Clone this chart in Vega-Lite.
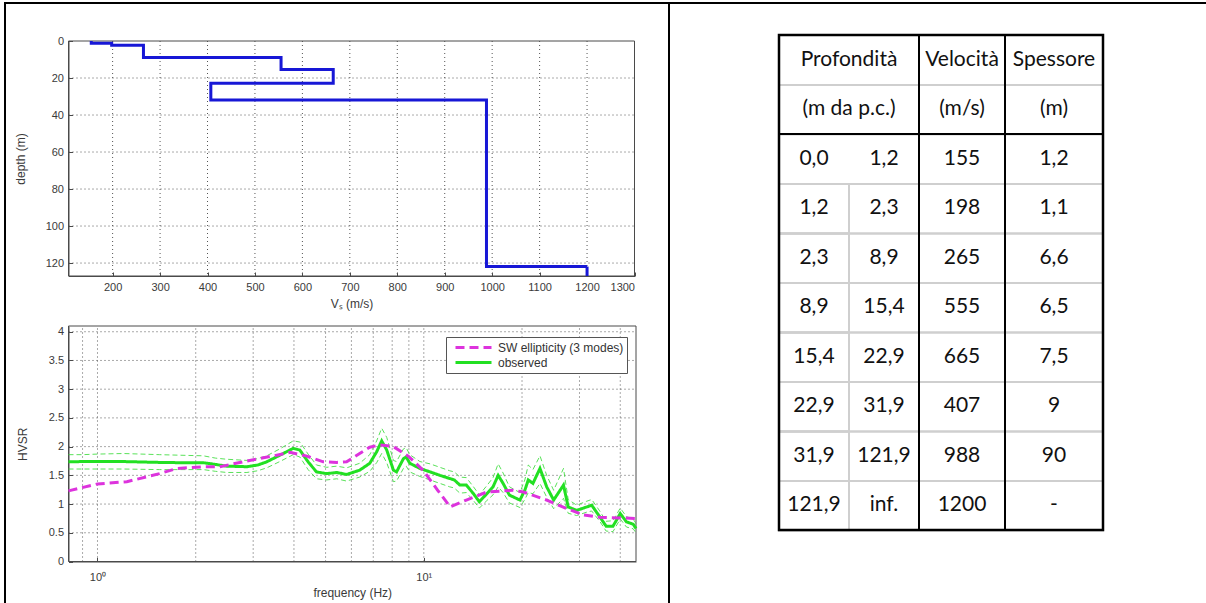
{
  "$schema": "https://vega.github.io/schema/vega-lite/v6.json",
  "width": 1206,
  "height": 603,
  "autosize": "none",
  "padding": 0,
  "background": "white",
  "config": {
    "view": {"stroke": null},
    "locale": {"number": {"decimal": ",", "thousands": ".", "grouping": [3], "currency": ["", " €"]}},
    "axis": {
      "grid": false,
      "labelFont": "Liberation Sans",
      "labelFontSize": 11,
      "labelColor": "#3a3a3a",
      "titleFont": "Liberation Sans",
      "titleFontSize": 12,
      "titleFontWeight": "normal",
      "titleColor": "#3a3a3a",
      "domainColor": "#4a4a4a",
      "tickColor": "#4a4a4a",
      "tickSize": -4,
      "labelPadding": 9
    }
  },
  "datasets": {
    "layers": [
      {"n": 1, "top": 0, "bottom": 1.2, "vs": 155, "h": 1.2},
      {"n": 2, "top": 1.2, "bottom": 2.3, "vs": 198, "h": 1.1},
      {"n": 3, "top": 2.3, "bottom": 8.9, "vs": 265, "h": 6.6},
      {"n": 4, "top": 8.9, "bottom": 15.4, "vs": 555, "h": 6.5},
      {"n": 5, "top": 15.4, "bottom": 22.9, "vs": 665, "h": 7.5},
      {"n": 6, "top": 22.9, "bottom": 31.9, "vs": 407, "h": 9},
      {"n": 7, "top": 31.9, "bottom": 121.9, "vs": 988, "h": 90},
      {"n": 8, "top": 121.9, "bottom": null, "vs": 1200, "h": null}
    ],
    "header": [
      {"n": -1, "depth": "Profondità", "vel": "Velocità", "thick": "Spessore"},
      {"n": 0, "depth": "(m da p.c.)", "vel": "(m/s)", "thick": "(m)"}
    ],
    "vsGrid": [{"v": 200}, {"v": 300}, {"v": 400}, {"v": 500}, {"v": 600}, {"v": 700}, {"v": 800}, {"v": 900}, {"v": 1000}, {"v": 1100}, {"v": 1200}],
    "depthGrid": [{"d": 20}, {"d": 40}, {"d": 60}, {"d": 80}, {"d": 100}, {"d": 120}],
    "fGrid": [{"f": 0.9}, {"f": 1}, {"f": 2}, {"f": 3}, {"f": 4}, {"f": 5}, {"f": 6}, {"f": 7}, {"f": 8}, {"f": 9}, {"f": 10}, {"f": 20}, {"f": 30}, {"f": 40}],
    "hGrid": [{"h": 0.5}, {"h": 1}, {"h": 1.5}, {"h": 2}, {"h": 2.5}, {"h": 3}, {"h": 3.5}, {"h": 4}],
    "hvsr": [
      {"f": 0.815, "obs": 1.735, "lo": 1.61, "hi": 1.86},
      {"f": 0.9, "obs": 1.74, "lo": 1.61, "hi": 1.86},
      {"f": 1.0, "obs": 1.74, "lo": 1.61, "hi": 1.87},
      {"f": 1.2, "obs": 1.74, "lo": 1.61, "hi": 1.88},
      {"f": 1.55, "obs": 1.725, "lo": 1.6, "hi": 1.86},
      {"f": 1.8, "obs": 1.72, "lo": 1.6, "hi": 1.85},
      {"f": 2.11, "obs": 1.72, "lo": 1.6, "hi": 1.84},
      {"f": 2.3, "obs": 1.69, "lo": 1.57, "hi": 1.8},
      {"f": 2.49, "obs": 1.66, "lo": 1.55, "hi": 1.78},
      {"f": 2.87, "obs": 1.65, "lo": 1.55, "hi": 1.76},
      {"f": 3.1, "obs": 1.68, "lo": 1.58, "hi": 1.79},
      {"f": 3.3, "obs": 1.735, "lo": 1.63, "hi": 1.84},
      {"f": 3.62, "obs": 1.85, "lo": 1.74, "hi": 1.96},
      {"f": 3.98, "obs": 1.97, "lo": 1.86, "hi": 2.1},
      {"f": 4.17, "obs": 1.94, "lo": 1.82, "hi": 2.08},
      {"f": 4.42, "obs": 1.735, "lo": 1.6, "hi": 1.87},
      {"f": 4.69, "obs": 1.56, "lo": 1.44, "hi": 1.68},
      {"f": 5.04, "obs": 1.53, "lo": 1.42, "hi": 1.64},
      {"f": 5.41, "obs": 1.55, "lo": 1.44, "hi": 1.66},
      {"f": 5.8, "obs": 1.515, "lo": 1.4, "hi": 1.63},
      {"f": 6.36, "obs": 1.59, "lo": 1.47, "hi": 1.71},
      {"f": 6.83, "obs": 1.71, "lo": 1.57, "hi": 1.86},
      {"f": 7.17, "obs": 1.91, "lo": 1.72, "hi": 2.1},
      {"f": 7.43, "obs": 2.1, "lo": 1.88, "hi": 2.32},
      {"f": 7.7, "obs": 1.94, "lo": 1.72, "hi": 2.16},
      {"f": 8.07, "obs": 1.59, "lo": 1.39, "hi": 1.76},
      {"f": 8.25, "obs": 1.56, "lo": 1.4, "hi": 1.74},
      {"f": 8.66, "obs": 1.79, "lo": 1.62, "hi": 1.96},
      {"f": 8.83, "obs": 1.82, "lo": 1.66, "hi": 1.98},
      {"f": 9.06, "obs": 1.71, "lo": 1.56, "hi": 1.86},
      {"f": 9.73, "obs": 1.62, "lo": 1.48, "hi": 1.74},
      {"f": 10.45, "obs": 1.56, "lo": 1.42, "hi": 1.7},
      {"f": 11.2, "obs": 1.5, "lo": 1.36, "hi": 1.64},
      {"f": 12.0, "obs": 1.445, "lo": 1.3, "hi": 1.58},
      {"f": 12.4, "obs": 1.42, "lo": 1.28, "hi": 1.56},
      {"f": 12.9, "obs": 1.33, "lo": 1.19, "hi": 1.47},
      {"f": 13.5, "obs": 1.33, "lo": 1.2, "hi": 1.46},
      {"f": 14.2, "obs": 1.18, "lo": 1.06, "hi": 1.3},
      {"f": 14.8, "obs": 1.04, "lo": 0.93, "hi": 1.16},
      {"f": 15.6, "obs": 1.18, "lo": 1.06, "hi": 1.32},
      {"f": 16.3, "obs": 1.3, "lo": 1.16, "hi": 1.46},
      {"f": 16.9, "obs": 1.5, "lo": 1.3, "hi": 1.7},
      {"f": 17.5, "obs": 1.36, "lo": 1.2, "hi": 1.54},
      {"f": 18.3, "obs": 1.155, "lo": 1.02, "hi": 1.3},
      {"f": 19.7, "obs": 1.07, "lo": 0.94, "hi": 1.2},
      {"f": 20.4, "obs": 1.24, "lo": 1.08, "hi": 1.42},
      {"f": 20.9, "obs": 1.42, "lo": 1.2, "hi": 1.68},
      {"f": 21.6, "obs": 1.36, "lo": 1.18, "hi": 1.6},
      {"f": 22.7, "obs": 1.62, "lo": 1.36, "hi": 1.84},
      {"f": 23.8, "obs": 1.3, "lo": 1.12, "hi": 1.5},
      {"f": 25.0, "obs": 1.07, "lo": 0.92, "hi": 1.24},
      {"f": 26.8, "obs": 1.33, "lo": 1.1, "hi": 1.62},
      {"f": 27.7, "obs": 0.95, "lo": 0.84, "hi": 1.08},
      {"f": 29.4, "obs": 0.89, "lo": 0.8, "hi": 0.98},
      {"f": 31.6, "obs": 0.95, "lo": 0.86, "hi": 1.05},
      {"f": 32.7, "obs": 0.98, "lo": 0.88, "hi": 1.08},
      {"f": 34.6, "obs": 0.78, "lo": 0.7, "hi": 0.88},
      {"f": 36.2, "obs": 0.615, "lo": 0.53, "hi": 0.7},
      {"f": 38.0, "obs": 0.615, "lo": 0.52, "hi": 0.71},
      {"f": 40.0, "obs": 0.835, "lo": 0.74, "hi": 0.93},
      {"f": 41.8, "obs": 0.69, "lo": 0.6, "hi": 0.78},
      {"f": 43.8, "obs": 0.65, "lo": 0.57, "hi": 0.74},
      {"f": 44.7, "obs": 0.575, "lo": 0.5, "hi": 0.66}
    ],
    "ellipticity": [
      {"f": 0.815, "h": 1.23},
      {"f": 1.0, "h": 1.35},
      {"f": 1.23, "h": 1.39},
      {"f": 1.55, "h": 1.53},
      {"f": 1.75, "h": 1.62},
      {"f": 2.11, "h": 1.65},
      {"f": 2.37, "h": 1.65},
      {"f": 2.87, "h": 1.75},
      {"f": 3.54, "h": 1.85},
      {"f": 3.89, "h": 1.9},
      {"f": 4.38, "h": 1.835},
      {"f": 4.92, "h": 1.735},
      {"f": 5.41, "h": 1.725},
      {"f": 5.8, "h": 1.735},
      {"f": 6.36, "h": 1.88},
      {"f": 6.83, "h": 1.99},
      {"f": 7.33, "h": 2.03},
      {"f": 8.07, "h": 2.0},
      {"f": 8.96, "h": 1.835},
      {"f": 9.95, "h": 1.59},
      {"f": 11.03, "h": 1.24},
      {"f": 12.05, "h": 0.95},
      {"f": 13.5, "h": 1.07},
      {"f": 15.6, "h": 1.21},
      {"f": 18.8, "h": 1.24},
      {"f": 20.2, "h": 1.21},
      {"f": 23.8, "h": 1.07},
      {"f": 27.4, "h": 0.92},
      {"f": 30.9, "h": 0.81},
      {"f": 34.6, "h": 0.77},
      {"f": 44.7, "h": 0.75}
    ]
  },
  "layer": [
    {
      "data": {"values": [{}]},
      "layer": [
        {
          "mark": {"type": "rect", "filled": false, "stroke": "black", "strokeWidth": 2},
          "encoding": {
            "x": {"datum": 0, "type": "quantitative", "scale": {"domain": [0, 1, 2], "range": [5, 669, 1240], "nice": false, "zero": false}, "axis": null},
            "x2": {"datum": 1},
            "y": {"datum": 0, "type": "quantitative", "scale": {"domain": [0, 1], "range": [3, 660], "nice": false, "zero": false}, "axis": null},
            "y2": {"datum": 1}
          }
        },
        {
          "mark": {"type": "rect", "filled": false, "stroke": "black", "strokeWidth": 2},
          "encoding": {
            "x": {"datum": 1, "type": "quantitative", "scale": {"domain": [0, 1, 2], "range": [5, 669, 1240], "nice": false, "zero": false}, "axis": null},
            "x2": {"datum": 2},
            "y": {"datum": 0, "type": "quantitative", "scale": {"domain": [0, 1], "range": [3, 660], "nice": false, "zero": false}, "axis": null},
            "y2": {"datum": 1}
          }
        }
      ]
    },
    {
      "layer": [
        {
          "data": {"name": "vsGrid"},
          "mark": {"type": "rule", "stroke": "#555", "strokeDash": [1, 3], "strokeWidth": 1},
          "encoding": {
            "x": {"field": "v", "type": "quantitative", "scale": {"domain": [107, 1300], "range": [68.5, 634.5], "nice": false, "zero": false}},
            "y": {"datum": 0, "type": "quantitative", "scale": {"domain": [0, 127], "range": [41, 276], "nice": false, "zero": false}},
            "y2": {"datum": 127}
          }
        },
        {
          "data": {"name": "depthGrid"},
          "mark": {"type": "rule", "stroke": "#555", "strokeDash": [1, 3], "strokeWidth": 1},
          "encoding": {
            "y": {"field": "d", "type": "quantitative", "scale": {"domain": [0, 127], "range": [41, 276], "nice": false, "zero": false}},
            "x": {"datum": 107, "type": "quantitative", "scale": {"domain": [107, 1300], "range": [68.5, 634.5], "nice": false, "zero": false}},
            "x2": {"datum": 1300}
          }
        },
        {
          "data": {"values": [{}]},
          "mark": {"type": "rect", "filled": false, "stroke": "#4a4a4a", "strokeWidth": 1},
          "encoding": {
            "x": {"datum": 107, "type": "quantitative", "scale": {"domain": [107, 1300], "range": [68.5, 634.5], "nice": false, "zero": false}},
            "x2": {"datum": 1300},
            "y": {"datum": 0, "type": "quantitative", "scale": {"domain": [0, 127], "range": [41, 276], "nice": false, "zero": false}},
            "y2": {"datum": 127}
          }
        },
        {
          "data": {"name": "layers"},
          "mark": {"type": "line", "interpolate": "step-before", "stroke": "#1717d6", "strokeWidth": 3},
          "encoding": {
            "x": {
              "field": "vs", "type": "quantitative",
              "scale": {"domain": [107, 1300], "range": [68.5, 634.5], "nice": false, "zero": false},
              "axis": {"orient": "bottom", "offset": -327, "values": [200, 300, 400, 500, 600, 700, 800, 900, 1000, 1100, 1200, 1300], "format": "d", "title": "Vₛ (m/s)", "titleY": 27, "titleBaseline": "middle"}
            },
            "y": {
              "field": "top", "type": "quantitative",
              "scale": {"domain": [0, 127], "range": [41, 276], "nice": false, "zero": false},
              "axis": {"orient": "left", "offset": -68.5, "values": [0, 20, 40, 60, 80, 100, 120], "format": "d", "title": "depth (m)", "titleX": -48, "titleBaseline": "middle"}
            },
            "order": {"field": "top"}
          }
        },
        {
          "data": {"name": "layers"},
          "transform": [{"filter": "datum.bottom === null"}],
          "mark": {"type": "rule", "stroke": "#1717d6", "strokeWidth": 3},
          "encoding": {
            "x": {"field": "vs", "type": "quantitative", "scale": {"domain": [107, 1300], "range": [68.5, 634.5], "nice": false, "zero": false}},
            "y": {"field": "top", "type": "quantitative", "scale": {"domain": [0, 127], "range": [41, 276], "nice": false, "zero": false}},
            "y2": {"datum": 127}
          }
        }
      ]
    },
    {
      "layer": [
        {
          "data": {"name": "fGrid"},
          "mark": {"type": "rule", "stroke": "#555", "strokeDash": [1, 3], "strokeWidth": 1},
          "encoding": {
            "x": {"field": "f", "type": "quantitative", "scale": {"type": "log", "domain": [0.815, 44.7], "range": [68.5, 636], "nice": false}},
            "y": {"datum": 0, "type": "quantitative", "scale": {"domain": [0, 4.1], "range": [561.5, 326], "nice": false, "zero": false}},
            "y2": {"datum": 4.1}
          }
        },
        {
          "data": {"name": "hGrid"},
          "mark": {"type": "rule", "stroke": "#555", "strokeDash": [1, 3], "strokeWidth": 1},
          "encoding": {
            "y": {"field": "h", "type": "quantitative", "scale": {"domain": [0, 4.1], "range": [561.5, 326], "nice": false, "zero": false}},
            "x": {"datum": 0.815, "type": "quantitative", "scale": {"type": "log", "domain": [0.815, 44.7], "range": [68.5, 636], "nice": false}},
            "x2": {"datum": 44.7}
          }
        },
        {
          "data": {"values": [{}]},
          "mark": {"type": "rect", "filled": false, "stroke": "#4a4a4a", "strokeWidth": 1},
          "encoding": {
            "x": {"datum": 0.815, "type": "quantitative", "scale": {"type": "log", "domain": [0.815, 44.7], "range": [68.5, 636], "nice": false}},
            "x2": {"datum": 44.7},
            "y": {"datum": 0, "type": "quantitative", "scale": {"domain": [0, 4.1], "range": [561.5, 326], "nice": false, "zero": false}},
            "y2": {"datum": 4.1}
          }
        },
        {
          "data": {"name": "hvsr"},
          "mark": {"type": "line", "stroke": "#3ddc3d", "strokeWidth": 1, "strokeDash": [5, 3], "opacity": 0.85},
          "encoding": {
            "x": {"field": "f", "type": "quantitative", "scale": {"type": "log", "domain": [0.815, 44.7], "range": [68.5, 636], "nice": false}},
            "y": {"field": "lo", "type": "quantitative", "scale": {"domain": [0, 4.1], "range": [561.5, 326], "nice": false, "zero": false}}
          }
        },
        {
          "data": {"name": "hvsr"},
          "mark": {"type": "line", "stroke": "#3ddc3d", "strokeWidth": 1, "strokeDash": [5, 3], "opacity": 0.85},
          "encoding": {
            "x": {"field": "f", "type": "quantitative", "scale": {"type": "log", "domain": [0.815, 44.7], "range": [68.5, 636], "nice": false}},
            "y": {"field": "hi", "type": "quantitative", "scale": {"domain": [0, 4.1], "range": [561.5, 326], "nice": false, "zero": false}}
          }
        },
        {
          "data": {"name": "hvsr"},
          "mark": {"type": "line", "strokeWidth": 3},
          "encoding": {
            "x": {
              "field": "f", "type": "quantitative",
              "scale": {"type": "log", "domain": [0.815, 44.7], "range": [68.5, 636], "nice": false},
              "axis": {"orient": "bottom", "offset": -41.5, "values": [1, 10], "labelExpr": "datum.value == 1 ? '10⁰' : '10¹'", "labelPadding": 14, "title": "frequency (Hz)", "titleY": 31, "titleBaseline": "middle"}
            },
            "y": {
              "field": "obs", "type": "quantitative",
              "scale": {"domain": [0, 4.1], "range": [561.5, 326], "nice": false, "zero": false},
              "axis": {"orient": "left", "offset": -68.5, "values": [0, 0.5, 1, 1.5, 2, 2.5, 3, 3.5, 4], "labelExpr": "'' + datum.value", "title": "HVSR", "titleX": -46, "titleBaseline": "middle"}
            },
            "color": {
              "datum": "observed",
              "scale": {"domain": ["SW ellipticity (3 modes)", "observed"], "range": ["#dd33dd", "#22e022"]},
              "legend": {"orient": "none", "legendX": 446, "legendY": 337, "title": null, "fillColor": "white", "strokeColor": "#555", "padding": 3, "clipHeight": 15, "symbolOffset": 5, "symbolType": "stroke", "symbolSize": 1296, "symbolStrokeWidth": 3, "labelFont": "Liberation Sans", "labelFontSize": 12, "labelColor": "#333", "rowPadding": 0, "labelOffset": 5}
            },
            "strokeDash": {
              "datum": "observed",
              "scale": {"domain": ["SW ellipticity (3 modes)", "observed"], "range": [[9, 5], [1, 0]]},
              "legend": {"orient": "none", "legendX": 446, "legendY": 337, "title": null, "fillColor": "white", "strokeColor": "#555", "padding": 3, "clipHeight": 15, "symbolOffset": 5, "symbolType": "stroke", "symbolSize": 1296, "symbolStrokeWidth": 3, "labelFont": "Liberation Sans", "labelFontSize": 12, "labelColor": "#333", "rowPadding": 0, "labelOffset": 5}
            }
          }
        },
        {
          "data": {"name": "ellipticity"},
          "mark": {"type": "line", "strokeWidth": 3},
          "encoding": {
            "x": {"field": "f", "type": "quantitative", "scale": {"type": "log", "domain": [0.815, 44.7], "range": [68.5, 636], "nice": false}},
            "y": {"field": "h", "type": "quantitative", "scale": {"domain": [0, 4.1], "range": [561.5, 326], "nice": false, "zero": false}},
            "color": {"datum": "SW ellipticity (3 modes)"},
            "strokeDash": {"datum": "SW ellipticity (3 modes)"}
          }
        }
      ]
    },
    {
      "layer": [
        {
          "data": {"name": "header"},
          "mark": {"type": "rect", "filled": false, "stroke": "#cfcfcf", "strokeWidth": 2},
          "encoding": {
            "x": {"datum": 0, "type": "quantitative", "scale": {"domain": [0, 1, 2, 3, 4], "range": [779, 849, 919, 1005, 1103], "nice": false, "zero": false}, "axis": null},
            "x2": {"datum": 4},
            "y": {"field": "n", "type": "quantitative", "bin": {"step": 1, "anchor": 0.5, "nice": false}, "scale": {"domain": [-1.5, 8.5], "range": [35, 530], "nice": false, "zero": false}, "axis": null}
          }
        },
        {
          "data": {"name": "layers"},
          "mark": {"type": "rect", "filled": false, "stroke": "#cfcfcf", "strokeWidth": 2},
          "encoding": {
            "x": {"datum": 0, "type": "quantitative", "scale": {"domain": [0, 1, 2, 3, 4], "range": [779, 849, 919, 1005, 1103], "nice": false, "zero": false}, "axis": null},
            "x2": {"datum": 4},
            "y": {"field": "n", "type": "quantitative", "bin": {"step": 1, "anchor": 0.5, "nice": false}, "scale": {"domain": [-1.5, 8.5], "range": [35, 530], "nice": false, "zero": false}, "axis": null}
          }
        },
        {
          "data": {"name": "layers"},
          "mark": {"type": "rect", "filled": false, "stroke": "#cfcfcf", "strokeWidth": 2},
          "encoding": {
            "x": {"datum": 0, "type": "quantitative", "scale": {"domain": [0, 1, 2, 3, 4], "range": [779, 849, 919, 1005, 1103], "nice": false, "zero": false}, "axis": null},
            "x2": {"datum": 1},
            "y": {"field": "n", "type": "quantitative", "bin": {"step": 1, "anchor": 0.5, "nice": false}, "scale": {"domain": [-1.5, 8.5], "range": [35, 530], "nice": false, "zero": false}, "axis": null}
          }
        },
        {
          "data": {"values": [{}]},
          "layer": [
            {
              "mark": {"type": "rule", "stroke": "black", "strokeWidth": 2},
              "encoding": {
                "x": {"datum": 2, "type": "quantitative", "scale": {"domain": [0, 1, 2, 3, 4], "range": [779, 849, 919, 1005, 1103], "nice": false, "zero": false}, "axis": null},
                "y": {"datum": -1.5, "type": "quantitative", "scale": {"domain": [-1.5, 8.5], "range": [35, 530], "nice": false, "zero": false}, "axis": null},
                "y2": {"datum": 8.5}
              }
            },
            {
              "mark": {"type": "rule", "stroke": "black", "strokeWidth": 2},
              "encoding": {
                "x": {"datum": 3, "type": "quantitative", "scale": {"domain": [0, 1, 2, 3, 4], "range": [779, 849, 919, 1005, 1103], "nice": false, "zero": false}, "axis": null},
                "y": {"datum": -1.5, "type": "quantitative", "scale": {"domain": [-1.5, 8.5], "range": [35, 530], "nice": false, "zero": false}, "axis": null},
                "y2": {"datum": 8.5}
              }
            },
            {
              "mark": {"type": "rule", "stroke": "black", "strokeWidth": 2},
              "encoding": {
                "y": {"datum": 0.5, "type": "quantitative", "scale": {"domain": [-1.5, 8.5], "range": [35, 530], "nice": false, "zero": false}, "axis": null},
                "x": {"datum": 0, "type": "quantitative", "scale": {"domain": [0, 1, 2, 3, 4], "range": [779, 849, 919, 1005, 1103], "nice": false, "zero": false}, "axis": null},
                "x2": {"datum": 4}
              }
            },
            {
              "mark": {"type": "rect", "filled": false, "stroke": "black", "strokeWidth": 2.5},
              "encoding": {
                "x": {"datum": 0, "type": "quantitative", "scale": {"domain": [0, 1, 2, 3, 4], "range": [779, 849, 919, 1005, 1103], "nice": false, "zero": false}, "axis": null},
                "x2": {"datum": 4},
                "y": {"datum": -1.5, "type": "quantitative", "scale": {"domain": [-1.5, 8.5], "range": [35, 530], "nice": false, "zero": false}, "axis": null},
                "y2": {"datum": 8.5}
              }
            }
          ]
        },
        {
          "data": {"name": "header"},
          "layer": [
            {
              "mark": {"type": "text", "font": "Lato", "fontSize": 21, "color": "#111", "baseline": "middle", "align": "center"},
              "encoding": {
                "x": {"datum": 1, "type": "quantitative", "scale": {"domain": [0, 1, 2, 3, 4], "range": [779, 849, 919, 1005, 1103], "nice": false, "zero": false}, "axis": null},
                "y": {"field": "n", "type": "quantitative", "scale": {"domain": [-1.5, 8.5], "range": [35, 530], "nice": false, "zero": false}, "axis": null},
                "text": {"field": "depth"}
              }
            },
            {
              "mark": {"type": "text", "font": "Lato", "fontSize": 21, "color": "#111", "baseline": "middle", "align": "center"},
              "encoding": {
                "x": {"datum": 2.5, "type": "quantitative", "scale": {"domain": [0, 1, 2, 3, 4], "range": [779, 849, 919, 1005, 1103], "nice": false, "zero": false}, "axis": null},
                "y": {"field": "n", "type": "quantitative", "scale": {"domain": [-1.5, 8.5], "range": [35, 530], "nice": false, "zero": false}, "axis": null},
                "text": {"field": "vel"}
              }
            },
            {
              "mark": {"type": "text", "font": "Lato", "fontSize": 21, "color": "#111", "baseline": "middle", "align": "center"},
              "encoding": {
                "x": {"datum": 3.5, "type": "quantitative", "scale": {"domain": [0, 1, 2, 3, 4], "range": [779, 849, 919, 1005, 1103], "nice": false, "zero": false}, "axis": null},
                "y": {"field": "n", "type": "quantitative", "scale": {"domain": [-1.5, 8.5], "range": [35, 530], "nice": false, "zero": false}, "axis": null},
                "text": {"field": "thick"}
              }
            }
          ]
        },
        {
          "data": {"name": "layers"},
          "layer": [
            {
              "mark": {"type": "text", "font": "Lato", "fontSize": 21, "color": "#111", "baseline": "middle", "align": "center"},
              "encoding": {
                "x": {"datum": 0.5, "type": "quantitative", "scale": {"domain": [0, 1, 2, 3, 4], "range": [779, 849, 919, 1005, 1103], "nice": false, "zero": false}, "axis": null},
                "y": {"field": "n", "type": "quantitative", "scale": {"domain": [-1.5, 8.5], "range": [35, 530], "nice": false, "zero": false}, "axis": null},
                "text": {"field": "top", "type": "quantitative", "format": ".1f"}
              }
            },
            {
              "mark": {"type": "text", "font": "Lato", "fontSize": 21, "color": "#111", "baseline": "middle", "align": "center"},
              "encoding": {
                "x": {"datum": 1.5, "type": "quantitative", "scale": {"domain": [0, 1, 2, 3, 4], "range": [779, 849, 919, 1005, 1103], "nice": false, "zero": false}, "axis": null},
                "y": {"field": "n", "type": "quantitative", "scale": {"domain": [-1.5, 8.5], "range": [35, 530], "nice": false, "zero": false}, "axis": null},
                "text": {"condition": {"test": "datum.bottom === null", "value": "inf."}, "field": "bottom", "type": "quantitative", "format": ".1f"}
              }
            },
            {
              "mark": {"type": "text", "font": "Lato", "fontSize": 21, "color": "#111", "baseline": "middle", "align": "center"},
              "encoding": {
                "x": {"datum": 2.5, "type": "quantitative", "scale": {"domain": [0, 1, 2, 3, 4], "range": [779, 849, 919, 1005, 1103], "nice": false, "zero": false}, "axis": null},
                "y": {"field": "n", "type": "quantitative", "scale": {"domain": [-1.5, 8.5], "range": [35, 530], "nice": false, "zero": false}, "axis": null},
                "text": {"field": "vs", "type": "quantitative", "format": "d"}
              }
            },
            {
              "mark": {"type": "text", "font": "Lato", "fontSize": 21, "color": "#111", "baseline": "middle", "align": "center"},
              "encoding": {
                "x": {"datum": 3.5, "type": "quantitative", "scale": {"domain": [0, 1, 2, 3, 4], "range": [779, 849, 919, 1005, 1103], "nice": false, "zero": false}, "axis": null},
                "y": {"field": "n", "type": "quantitative", "scale": {"domain": [-1.5, 8.5], "range": [35, 530], "nice": false, "zero": false}, "axis": null},
                "text": {"condition": {"test": "datum.h === null", "value": "-"}, "field": "h", "type": "quantitative", "format": ".1~f"}
              }
            }
          ]
        }
      ]
    }
  ],
  "resolve": {"scale": {"x": "independent", "y": "independent"}}
}
